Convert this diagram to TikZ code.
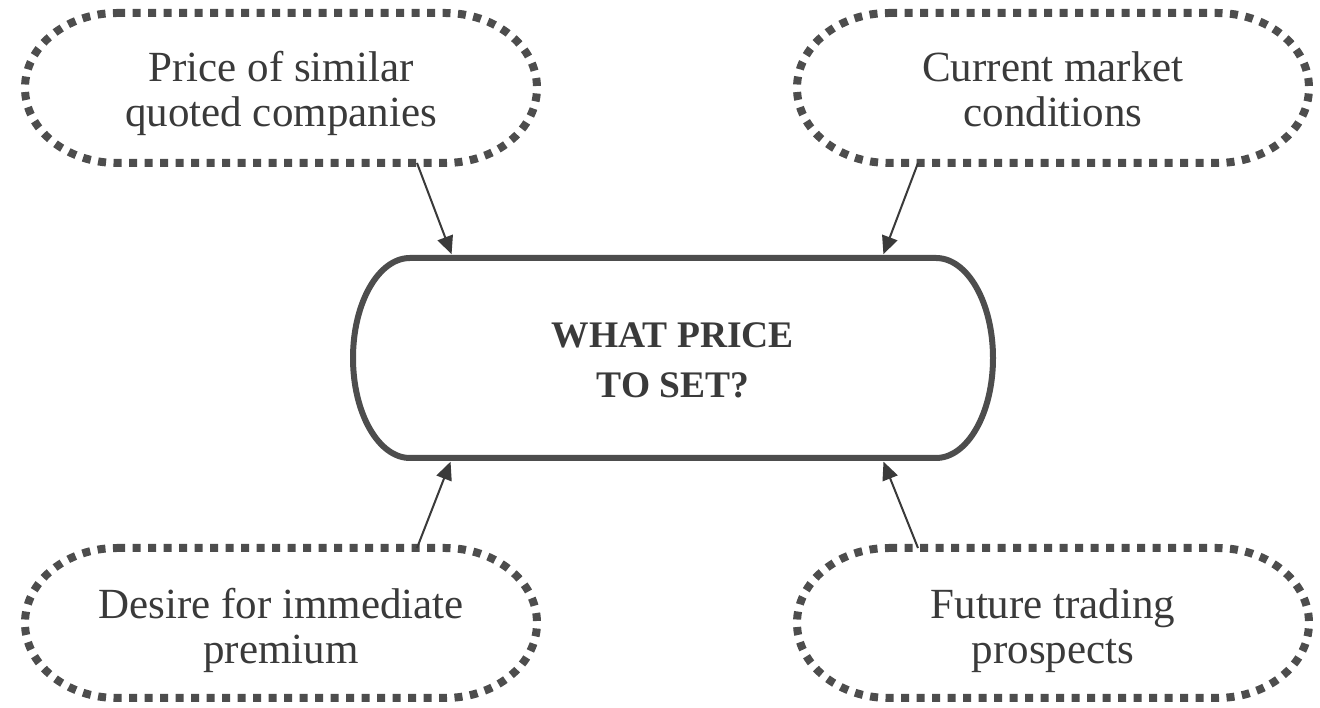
\documentclass[tikz,border=0pt]{standalone}
\usepackage{fontspec}
\setmainfont{Liberation Serif}
\usetikzlibrary{arrows.meta}
\definecolor{linegray}{HTML}{4D4D4D}
\definecolor{textgray}{HTML}{3A3A3A}
\newcommand\stadiumoutline[4]{% style, name, rx, ry
  \draw[#1] ([xshift=#3]#2.north west) -- ([xshift=-#3]#2.north east)
    arc[start angle=90,end angle=-90,x radius=#3,y radius=#4]
    -- ([xshift=#3]#2.south west)
    arc[start angle=270,end angle=90,x radius=#3,y radius=#4] -- cycle;}
\newcommand\loweredlines[2]{\raisebox{-#1}[\height][\depth]{\begin{tabular}{@{}c@{}}#2\end{tabular}}}
\begin{document}
\begin{tikzpicture}[x=1pt,y=1pt,
  factor/.style={inner sep=0pt,outer sep=0pt,minimum width=512pt,minimum height=150pt,
    text=textgray,font=\fontsize{43}{45}\selectfont},
  centre/.style={inner sep=0pt,outer sep=0pt,minimum width=640pt,minimum height=200pt,
    text=textgray,font=\fontsize{37.5}{50}\selectfont\bfseries},
  dotline/.style={draw=linegray,line width=8pt,dash pattern=on 8pt off 7.5pt},
  boxline/.style={draw=linegray,line width=6pt},
  arr/.style={draw=textgray,line width=2pt,-{Triangle[length=18pt,width=16pt]},shorten >=4pt}]
\useasboundingbox (0,0) rectangle (1320,708);
\fill[white] (0,0) rectangle (1320,708);
\node[factor] (tl) at (281,620) {\loweredlines{7pt}{Price of similar\\quoted companies}};
\node[factor] (tr) at (1053,620) {\loweredlines{7pt}{Current market\\conditions}};
\node[factor] (bl) at (281,85) {\loweredlines{9pt}{Desire for immediate\\premium}};
\node[factor] (br) at (1053,85) {\loweredlines{9pt}{Future trading\\prospects}};
\node[centre] (c) at (673,350) {\loweredlines{5pt}{WHAT PRICE\\TO SET?}};
\stadiumoutline{dotline}{tl}{92}{75}
\stadiumoutline{dotline}{tr}{92}{75}
\stadiumoutline{dotline}{bl}{92}{75}
\stadiumoutline{dotline}{br}{92}{75}
\stadiumoutline{boxline}{c}{57}{100}
\draw[arr] ([xshift=136pt]tl.south) -- ([xshift=-220pt]c.north);
\draw[arr] ([xshift=-135pt]tr.south) -- ([xshift=209pt]c.north);
\draw[arr] ([xshift=136pt]bl.north) -- ([xshift=-221pt]c.south);
\draw[arr] ([xshift=-135pt]br.north) -- ([xshift=209pt]c.south);
\end{tikzpicture}
\end{document}
